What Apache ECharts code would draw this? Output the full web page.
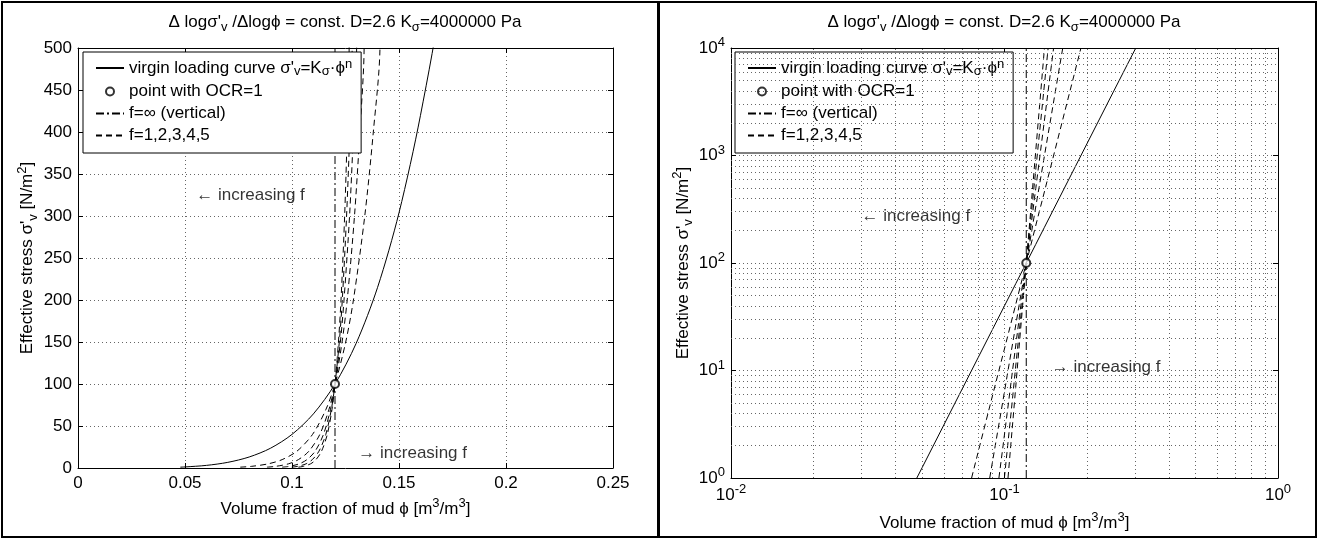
<!DOCTYPE html>
<html><head><meta charset="utf-8">
<script src="https://cdn.jsdelivr.net/npm/echarts@6/dist/echarts.min.js"></script>
<style>html,body{margin:0;padding:0;background:#fff}#c{width:1318px;height:540px}</style>
</head><body><div id="c"></div>
<script>
const FONT = 'Liberation Sans, Arial, Helvetica, sans-serif';

// ---- data ----
// virgin loading curve (phi, sigma'_v)
const phiVirgin   = [0.0478, 0.05, 0.06, 0.07, 0.08, 0.09, 0.10, 0.11, 0.12, 0.13, 0.14, 0.15, 0.16, 0.17, 0.20, 0.25, 0.302];
const sigmaVirgin = [1.0, 1.25, 3.11, 6.72, 13.1, 23.6, 40.0, 64.4, 99.5, 148.5, 215.1, 303.8, 419.4, 567.9, 1280, 3906, 10000];
// dashed curves f=1..5 (sigma samples shared, phi per curve)
const sigmaF = [1, 2, 5, 10, 20, 40, 70, 100, 150, 200, 300, 400, 500, 10000];
const phiF1  = [0.0758, 0.0812, 0.0890, 0.0954, 0.1023, 0.1096, 0.1159, 0.1201, 0.1251, 0.1287, 0.1340, 0.1380, 0.1411, 0.1903];
const phiF2  = [0.0883, 0.0925, 0.0984, 0.1030, 0.1079, 0.1130, 0.1173, 0.1201, 0.1234, 0.1258, 0.1292, 0.1317, 0.1337, 0.1633];
const phiF3  = [0.0954, 0.0988, 0.1034, 0.1070, 0.1108, 0.1147, 0.1180, 0.1201, 0.1226, 0.1243, 0.1269, 0.1287, 0.1302, 0.1512];
const phiF4  = [0.0999, 0.1027, 0.1066, 0.1095, 0.1126, 0.1158, 0.1184, 0.1201, 0.1221, 0.1235, 0.1255, 0.1270, 0.1281, 0.1444];
const phiF5  = [0.1030, 0.1054, 0.1087, 0.1112, 0.1138, 0.1165, 0.1187, 0.1201, 0.1217, 0.1229, 0.1246, 0.1258, 0.1267, 0.1400];
const phiF   = [phiF1, phiF2, phiF3, phiF4, phiF5];
// OCR=1 point and vertical line
const ocrPoint = [0.1201, 100];
const vertLinLeft  = [[0.1201, 0], [0.1201, 500]];
const vertLinRight = [[0.1201, 1], [0.1201, 10000]];
// annotation anchors
const annLeft  = [{ text: '\u2190 increasing f', at: [0.106, 325], side: 'left' }, { text: '\u2192 increasing f', at: [0.131, 18], side: 'right' }];
const annRight = [{ text: '\u2190 increasing f', at: [0.0300, 270], side: 'right' }, { text: '\u2192 increasing f', at: [0.149, 10.8], side: 'right' }];
// ticks
const linXTicks = [0, 0.25, 0.05];   // min, max, interval
const linYTicks = [0, 500, 50];
const logXRange = [0.01, 1];
const logYRange = [1, 10000];
const logXMinor = [0.02,0.03,0.04,0.05,0.06,0.07,0.08,0.09,0.2,0.3,0.4,0.5,0.6,0.7,0.8,0.9];
const logYMinor = [2,3,4,5,6,7,8,9,20,30,40,50,60,70,80,90,200,300,400,500,600,700,800,900,2000,3000,4000,5000,6000,7000,8000,9000];

// ---- texts ----
const titleText = "{t|\u0394 log\u03c3'}{sub|v}{t| /\u0394log\u03d5 = const. D=2.6 K}{sub|\u03c3}{t|=4000000 Pa}";
const yName = "{t|Effective stress \u03c3'}{sub|v}{t| [N/m}{sup|2}{t|]}";
const xName = "{t|Volume fraction of mud \u03d5 [m}{sup|3}{t|/m}{sup|3}{t|]}";
const legendNames = ['virgin', 'point', 'finf', 'f15'];
const legendLabels = {
  virgin: "{t|virgin loading curve \u03c3'}{sub|v}{t|=K}{sub|\u03c3}{t|\u00b7\u03d5}{sup|n}",
  point: "{t|point with OCR=1}",
  finf: "{t|f=\u221e (vertical)}",
  f15: "{t|f=1,2,3,4,5}"
};

function mkRich(fs, lh) {
  return {
    t:   { fontFamily: FONT, fontSize: fs, color: '#000', lineHeight: lh },
    b:   { fontFamily: FONT, fontSize: fs, color: '#000', lineHeight: lh },
    sub: { fontFamily: FONT, fontSize: fs - 4, color: '#000', lineHeight: Math.round(lh * 0.6), verticalAlign: 'bottom' },
    sup: { fontFamily: FONT, fontSize: fs - 4, color: '#000', lineHeight: Math.round(lh * 0.6), verticalAlign: 'top' }
  };
}
const FS = 17;
const richTitle = mkRich(FS, 24);
const richName = mkRich(FS, 24);
const richTick = mkRich(FS, 24);
const richLegend = mkRich(FS, 20);

const gridLine = { show: true, lineStyle: { color: '#666', type: [1, 3], width: 1 } };
const axLine = { show: true, onZero: false, lineStyle: { color: '#000', width: 1 } };
const tick = { show: true, inside: true, length: 5, lineStyle: { color: '#000' } };
const lab = { color: '#000', fontFamily: FONT, fontSize: FS };

function logFmt(v) { return '{b|10}{sup|' + Math.round(Math.log10(v)) + '}'; }

function mirror(base, pos) {
  return Object.assign({}, base, { position: pos, name: '', axisLabel: { show: false }, splitLine: { show: false } });
}

const xL = { type: 'value', min: linXTicks[0], max: linXTicks[1], interval: linXTicks[2], axisLine: axLine, axisTick: tick,
  axisLabel: Object.assign({ margin: 7 }, lab), splitLine: gridLine,
  name: xName, nameLocation: 'middle', nameGap: 29, nameTextStyle: { rich: richName } };
const yL = { type: 'value', min: linYTicks[0], max: linYTicks[1], interval: linYTicks[2], axisLine: axLine, axisTick: tick,
  axisLabel: Object.assign({ margin: 6 }, lab), splitLine: gridLine,
  name: yName, nameLocation: 'middle', nameGap: 25, nameRotate: 90, nameTextStyle: { rich: richName } };
const xR = { type: 'log', logBase: 10, min: logXRange[0], max: logXRange[1], axisLine: axLine, axisTick: tick,
  axisLabel: Object.assign({ margin: 5, formatter: logFmt, rich: richTick }, lab), splitLine: gridLine,
  name: xName, nameLocation: 'middle', nameGap: 33, nameTextStyle: { rich: richName } };
const yR = { type: 'log', logBase: 10, min: logYRange[0], max: logYRange[1], axisLine: axLine, axisTick: tick,
  axisLabel: Object.assign({ margin: 6, formatter: logFmt, rich: richTick }, lab), splitLine: gridLine,
  name: yName, nameLocation: 'middle', nameGap: 22, nameRotate: 90, nameTextStyle: { rich: richName } };

function panelSeries(xi, yi, logMode) {
  const s = [];
  if (logMode) {
    s.push({ type: 'line', name: 'grid-minor', xAxisIndex: xi, yAxisIndex: yi, data: [], silent: true, z: 1,
      markLine: { silent: true, symbol: ['none', 'none'], label: { show: false }, animation: false,
        lineStyle: { color: '#666', type: [1, 3], width: 1 },
        data: logXMinor.map(v => ({ xAxis: v })).concat(logYMinor.map(v => ({ yAxis: v }))) } });
  }
  s.push({ type: 'line', name: 'virgin', xAxisIndex: xi, yAxisIndex: yi, symbol: 'none', smooth: logMode ? false : 0.3,
    lineStyle: { color: '#000', width: 1 }, itemStyle: { color: '#000' },
    data: phiVirgin.map((p, i) => [p, sigmaVirgin[i]]) });
  phiF.forEach(arr => {
    s.push({ type: 'line', name: 'f15', xAxisIndex: xi, yAxisIndex: yi, symbol: 'none', smooth: logMode ? false : 0.3,
      lineStyle: { color: '#000', width: 1, type: [6, 4] }, itemStyle: { color: '#000' },
      data: arr.map((p, i) => [p, sigmaF[i]]) });
  });
  s.push({ type: 'line', name: 'finf', xAxisIndex: xi, yAxisIndex: yi, symbol: 'none',
    lineStyle: { color: '#000', width: 1, type: [8, 3, 2, 3] }, itemStyle: { color: '#000' },
    data: logMode ? vertLinRight : vertLinLeft });
  s.push({ type: 'scatter', name: 'point', xAxisIndex: xi, yAxisIndex: yi, symbol: 'emptyCircle', symbolSize: 8,
    itemStyle: { color: '#000', borderColor: '#000', borderWidth: 1 }, z: 5, data: [ocrPoint] });
  (logMode ? annRight : annLeft).forEach(a => {
    s.push({ type: 'scatter', name: 'ann', xAxisIndex: xi, yAxisIndex: yi, symbolSize: 0, silent: true,
      label: { show: true, position: a.side, distance: 0, formatter: a.text, color: '#000', fontFamily: FONT, fontSize: FS },
      data: [a.at] });
  });
  return s;
}

function legend(left) {
  return { orient: 'vertical', left: left, top: 52, backgroundColor: '#fff', borderColor: '#000', borderWidth: 1,
    padding: [6, 9, 9, 12], itemGap: 5, itemWidth: 28, itemHeight: 8, selectedMode: false, align: 'left',
    data: legendNames.map(n => n === 'point' ? { name: n } : { name: n, itemStyle: { opacity: 0 } }),
    formatter: n => legendLabels[n],
    textStyle: { fontFamily: FONT, fontSize: FS, color: '#000', rich: richLegend } };
}

const chart = echarts.init(document.getElementById('c'), null, { renderer: 'canvas' });
chart.setOption({
  animation: false,
  backgroundColor: '#fff',
  grid: [
    { left: 78, top: 48, width: 535, height: 420 },
    { left: 731, top: 48, width: 547, height: 430 }
  ],
  xAxis: [xL, xR, mirror(xL, 'top'), mirror(xR, 'top')].map((a, i) => Object.assign({}, a, { gridIndex: i % 2 })),
  yAxis: [yL, yR, mirror(yL, 'right'), mirror(yR, 'right')].map((a, i) => Object.assign({}, a, { gridIndex: i % 2 })),
  legend: [legend(83), legend(735)],
  series: panelSeries(0, 0, false).concat(panelSeries(1, 1, true)),
  graphic: [
    { type: 'rect', shape: { x: 2, y: 2, width: 656, height: 535 }, style: { fill: 'none', stroke: '#000', lineWidth: 2 }, z: 100 },
    { type: 'rect', shape: { x: 659, y: 2, width: 657, height: 535 }, style: { fill: 'none', stroke: '#000', lineWidth: 2 }, z: 100 },
    { type: 'text', x: 345, y: 22, style: { text: titleText, align: 'center', verticalAlign: 'middle', rich: richTitle, font: FS + 'px ' + FONT } },
    { type: 'text', x: 1004, y: 22, style: { text: titleText, align: 'center', verticalAlign: 'middle', rich: richTitle, font: FS + 'px ' + FONT } }
  ]
});
</script></body></html>
